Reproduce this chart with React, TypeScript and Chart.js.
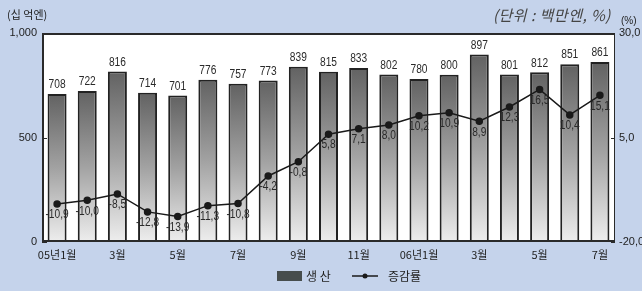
import React, { useEffect, useRef } from "react";
import { Chart, registerables } from "chart.js";
Chart.register(...registerables);

const categories = ["05년1월", "2월", "3월", "4월", "5월", "6월", "7월", "8월", "9월", "10월", "11월", "12월", "06년1월", "2월", "3월", "4월", "5월", "6월", "7월"];
const production = [708, 722, 816, 714, 701, 776, 757, 773, 839, 815, 833, 802, 780, 800, 897, 801, 812, 851, 861];
const growth = [-10.9, -10.0, -8.5, -12.8, -13.9, -11.3, -10.8, -4.2, -0.8, 5.8, 7.1, 8.0, 10.2, 10.9, 8.9, 12.3, 16.5, 10.4, 15.1];
const leftTicks = [0, 500, 1000];
const rightTicks = [-20, 5, 30];

const FONT = "'Liberation Sans', 'Noto Sans CJK KR', sans-serif";
const KFONT = "'Noto Sans CJK KR', 'Liberation Sans', sans-serif";
const BG = "#c5d3eb";

const fmtDec = (v: number) => v.toFixed(1).replace(".", ",");
const fmtInt = (v: number) => v.toLocaleString("en-US");

function narrowText(ctx: CanvasRenderingContext2D, s: string, x: number, y: number, sx: number) {
  ctx.save();
  ctx.translate(x, y);
  ctx.scale(sx, 1);
  ctx.fillText(s, 0, 0);
  ctx.restore();
}

export default function App() {
  const ref = useRef<HTMLCanvasElement>(null);
  useEffect(() => {
    if (!ref.current) return;
    const labelPlugin = {
      id: "labels",
      beforeDatasetsDraw(chart: any) {
        const { ctx, chartArea: a } = chart;
        ctx.save();
        ctx.fillStyle = "#ffffff";
        ctx.fillRect(a.left, a.top, a.right - a.left, a.bottom - a.top);
        ctx.restore();
      },
      afterDatasetsDraw(chart: any) {
        const { ctx, chartArea: a } = chart;
        ctx.save();
        ctx.strokeStyle = "#2a2a2a";
        ctx.lineWidth = 1;
        ctx.strokeRect(a.left + 0.5, a.top + 0.5, a.right - a.left - 1, a.bottom - a.top - 1);
        ctx.lineWidth = 2;
        ctx.beginPath();
        ctx.moveTo(a.left + 1, a.bottom);
        ctx.lineTo(a.left + 1, a.top + 1);
        ctx.lineTo(a.right, a.top + 1);
        ctx.moveTo(a.left, a.bottom - 1);
        ctx.lineTo(a.right, a.bottom - 1);
        ctx.stroke();
        ctx.lineWidth = 1;
        const yL = chart.scales.y;
        const yR = chart.scales.y1;
        ctx.beginPath();
        leftTicks.forEach((t) => {
          const py = Math.round(yL.getPixelForValue(t)) + 0.5;
          ctx.moveTo(a.left, py);
          ctx.lineTo(a.left + 5, py);
        });
        rightTicks.forEach((t) => {
          const py = Math.round(yR.getPixelForValue(t)) + 0.5;
          ctx.moveTo(a.right, py);
          ctx.lineTo(a.right - 4, py);
        });
        ctx.stroke();

        ctx.fillStyle = "#2a2a2a";
        ctx.font = `12px ${FONT}`;
        ctx.textAlign = "center";
        ctx.textBaseline = "bottom";
        const barMeta = chart.getDatasetMeta(0);
        barMeta.data.forEach((el: any, i: number) => {
          narrowText(ctx, String(production[i]), el.x, el.y - 3, 0.85);
        });
        ctx.textBaseline = "top";
        const lineMeta = chart.getDatasetMeta(1);
        lineMeta.data.forEach((el: any, i: number) => {
          narrowText(ctx, fmtDec(growth[i]), el.x, el.y + 5, 0.85);
        });
        ctx.restore();
      },
    };

    const chart = new Chart(ref.current, {
      type: "bar",
      data: {
        labels: categories,
        datasets: [
          {
            type: "bar",
            label: "생 산",
            data: production,
            yAxisID: "y",
            order: 1,
            categoryPercentage: 1,
            barPercentage: 0.63,
            borderColor: "#222",
            borderWidth: 2,
            borderSkipped: false,
            backgroundColor: (c: any) => {
              const chart = c.chart;
              const { chartArea, scales } = chart;
              if (!chartArea || c.type !== "data") return "#888";
              const top = scales.y.getPixelForValue(c.raw);
              const bottom = scales.y.getPixelForValue(0);
              const g = chart.ctx.createLinearGradient(0, top, 0, bottom);
              g.addColorStop(0, "#626262");
              g.addColorStop(0.5, "#a2a2a2");
              g.addColorStop(1, "#eeeeee");
              return g;
            },
          } as any,
          {
            type: "line",
            label: "증감률",
            data: growth,
            yAxisID: "y1",
            order: 0,
            borderColor: "#1a1a1a",
            borderWidth: 1.5,
            pointRadius: 3,
            pointBackgroundColor: "#1a1a1a",
            pointBorderColor: "#1a1a1a",
            tension: 0,
          } as any,
        ],
      },
      options: {
        responsive: false,
        animation: false,
        layout: { padding: { top: 33, left: 0, right: 0, bottom: 0 } },
        plugins: { legend: { display: false }, tooltip: { enabled: false } },
        scales: {
          x: {
            grid: { display: false, drawTicks: false },
            border: { display: false },
            ticks: {
              autoSkip: false,
              maxRotation: 0,
              padding: 6,
              color: "#222",
              font: { family: KFONT, size: 11 },
              callback: (_v: any, i: number) => (i % 2 === 0 ? categories[i] : ""),
            },
            afterFit: (s: any) => {
              s.height = 49;
            },
          },
          y: {
            position: "left",
            min: 0,
            max: 1000,
            grid: { display: false, drawTicks: false },
            border: { display: false },
            afterBuildTicks: (s: any) => {
              s.ticks = leftTicks.map((v) => ({ value: v }));
            },
            ticks: {
              padding: 5,
              color: "#222",
              font: { family: FONT, size: 11 },
              callback: (v: any) => fmtInt(Number(v)),
            },
            afterFit: (s: any) => {
              s.width = 42;
            },
          },
          y1: {
            position: "right",
            min: -20,
            max: 30,
            grid: { display: false, drawTicks: false },
            border: { display: false },
            afterBuildTicks: (s: any) => {
              s.ticks = rightTicks.map((v) => ({ value: v }));
            },
            ticks: {
              padding: 4,
              color: "#222",
              font: { family: FONT, size: 11 },
              callback: (v: any) => fmtDec(Number(v)),
            },
            afterFit: (s: any) => {
              s.width = 27;
            },
          },
        },
      },
      plugins: [labelPlugin],
    } as any);
    return () => chart.destroy();
  }, []);

  const txt: React.CSSProperties = { position: "absolute", fontFamily: KFONT, color: "#222", whiteSpace: "nowrap", lineHeight: 1 };
  return (
    <div style={{ position: "fixed", left: 0, top: 0, width: 642, height: 291, background: BG, overflow: "hidden" }}>
      <canvas ref={ref} width={642} height={291} style={{ position: "absolute", left: 0, top: 0 }} />
      <div style={{ ...txt, left: 7, top: 9, fontSize: 11 }}>(십 억엔)</div>
      <div style={{ ...txt, left: 493, top: 7, fontSize: 15, fontStyle: "italic", color: "#444", letterSpacing: 0.5 }}>(단위 : 백만엔, %)</div>
      <div style={{ ...txt, fontFamily: FONT, left: 621, top: 16, fontSize: 10 }}>(%)</div>
      <div style={{ position: "absolute", left: 277, top: 271, width: 25, height: 10, background: "#474d4d" }} />
      <div style={{ ...txt, left: 306, top: 270, fontSize: 12 }}>생 산</div>
      <svg style={{ position: "absolute", left: 351, top: 271 }} width={28} height={10}>
        <line x1={1} y1={5} x2={27} y2={5} stroke="#1a1a1a" strokeWidth={1.5} />
        <circle cx={14} cy={5} r={2.5} fill="#1a1a1a" />
      </svg>
      <div style={{ ...txt, left: 388, top: 270, fontSize: 12 }}>증감률</div>
    </div>
  );
}
